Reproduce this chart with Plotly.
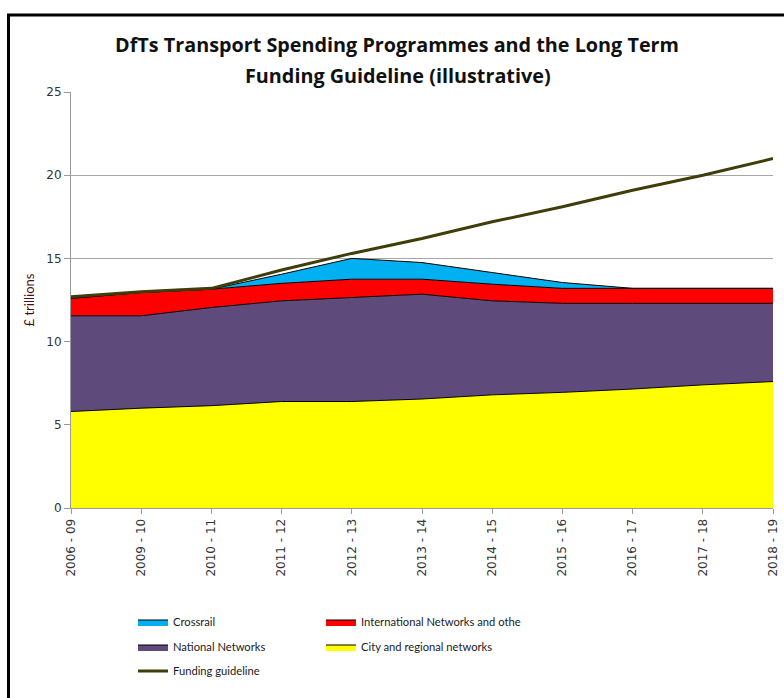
import plotly.graph_objects as go

# ---- data ----
periods = ["2006 - 09", "2009 - 10", "2010 - 11", "2011 - 12", "2012 - 13", "2013 - 14",
           "2014 - 15", "2015 - 16", "2016 - 17", "2017 - 18", "2018 - 19"]
city_regional = [5.8, 6.0, 6.15, 6.4, 6.4, 6.55, 6.8, 6.95, 7.15, 7.4, 7.6]
national = [5.75, 5.55, 5.9, 6.05, 6.25, 6.3, 5.65, 5.35, 5.15, 4.9, 4.7]
international = [1.05, 1.4, 1.1, 1.05, 1.1, 0.9, 1.0, 0.9, 0.9, 0.9, 0.9]
crossrail = [0, 0, 0, 0.55, 1.25, 1.0, 0.7, 0.35, 0, 0, 0]
funding_guideline = [12.7, 13.0, 13.2, 14.3, 15.3, 16.2, 17.2, 18.1, 19.1, 20.0, 21.0]
y_ticks = [0, 5, 10, 15, 20, 25]

title_line1 = "DfTs Transport Spending Programmes and the Long Term"
title_line2 = "Funding Guideline (illustrative)"
y_title = "£ trillions"

# ---- layout geometry (pixels) ----
W, H = 784, 698
L, R, T, B = 71, 11, 92, 190
PW, PH = W - L - R, H - T - B


def px_x(p):
    return (p - L) / PW


def px_y(p):
    return (H - B - p) / PH


TITLE_FONT = dict(family="'Open Sans', Lato, sans-serif", size=19.8, color="#111111")
LEG_FONT = dict(family="Lato, 'Open Sans', sans-serif", size=11.2, color="#1a1a1a")
TICK_FONT = dict(family="DejaVu Sans, Verdana, sans-serif", size=12, color="#333333")

fig = go.Figure()

series = [
    ("City and regional networks", city_regional, "#FFFF00", "legend4"),
    ("National Networks", national, "#5F4B7B", "legend3"),
    ("International Networks and othe", international, "#FF0000", "legend2"),
    ("Crossrail", crossrail, "#00B0F0", "legend"),
]
for name, vals, color, leg in series:
    fig.add_trace(go.Scatter(
        x=periods, y=vals, name=name, mode="lines",
        stackgroup="spend", fillcolor=color,
        line=dict(color="#000000", width=1),
        legend=leg,
    ))

fig.add_trace(go.Scatter(
    x=periods, y=funding_guideline, name="Funding guideline", mode="lines",
    line=dict(color="#3F3D0A", width=3),
    legend="legend5",
))

legend_pos = {
    "legend": (133, 622),
    "legend2": (321, 622),
    "legend3": (133, 647),
    "legend4": (321, 647),
    "legend5": (133, 671),
}
legends = {}
for key, (lx, ly) in legend_pos.items():
    legends[key] = dict(
        x=px_x(lx), y=px_y(ly), xanchor="left", yanchor="middle",
        orientation="v", font=LEG_FONT, bgcolor="rgba(0,0,0,0)",
        traceorder="normal", itemclick=False, itemdoubleclick=False,
    )

fig.update_layout(
    width=W, height=H,
    margin=dict(l=L, r=R, t=T, b=B, autoexpand=False),
    paper_bgcolor="white", plot_bgcolor="white",
    showlegend=True,
    title=dict(
        text="<b>" + title_line1 + "</b>",
        x=px_x(397), xanchor="center", xref="paper",
        y=1 - 45 / H, yanchor="middle", yref="container",
        font=TITLE_FONT,
    ),
    annotations=[dict(
        text="<b>" + title_line2 + "</b>", showarrow=False,
        xref="paper", yref="paper", x=px_x(398), y=px_y(75),
        xanchor="center", yanchor="middle",
        font=TITLE_FONT,
    )],
    xaxis=dict(
        type="category", range=[0, len(periods) - 1],
        showgrid=False, showline=True, linecolor="#9a9a9a", linewidth=1,
        ticks="outside", ticklen=5, tickcolor="#9a9a9a", tickangle=-90,
        tickfont=TICK_FONT,
        fixedrange=True,
    ),
    yaxis=dict(
        range=[0, 25], tickvals=y_ticks, ticktext=[str(v) for v in y_ticks],
        showgrid=True, gridcolor="#a6a6a6", gridwidth=1,
        showline=True, linecolor="#9a9a9a", linewidth=1, zeroline=False,
        ticks="outside", ticklen=6, tickcolor="#9a9a9a",
        tickfont=TICK_FONT,
        title=dict(text=y_title, standoff=8,
                   font=dict(family="Lato, 'Open Sans', sans-serif", size=13, color="#4a1010")),
        fixedrange=True,
    ),
    shapes=[dict(
        type="rect", xref="paper", yref="paper",
        x0=px_x(8.5), x1=px_x(W + 10), y0=px_y(H + 10), y1=px_y(15),
        line=dict(color="#000000", width=3), fillcolor="rgba(0,0,0,0)", layer="above",
    )],
    **legends,
)

fig.write_html(
    "out.html",
    config={"displayModeBar": False, "staticPlot": False},
    post_script="document.body.style.margin='0';document.body.style.overflow='hidden';",
)
